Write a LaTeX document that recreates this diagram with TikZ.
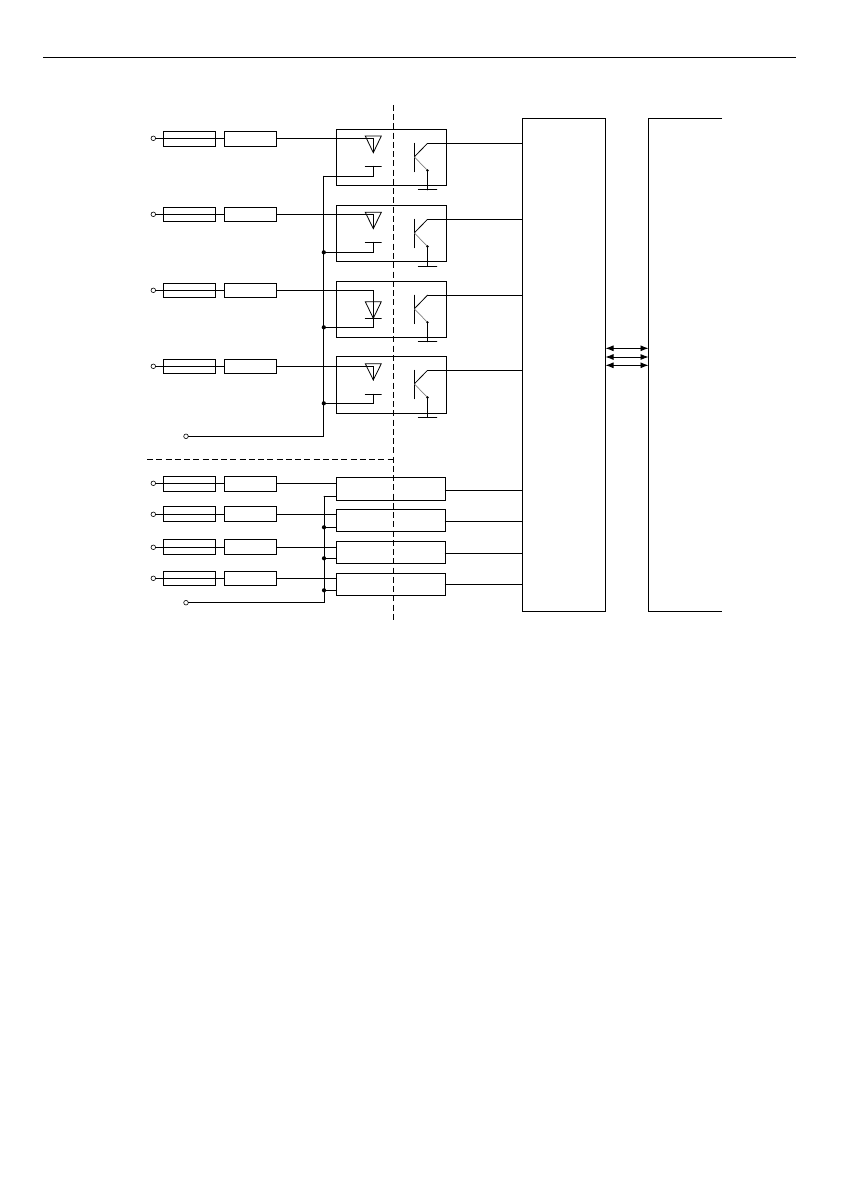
\documentclass[tikz,border=0pt]{standalone}
\usetikzlibrary{arrows.meta}
\tikzset{
  wire/.style={line width=0.8pt,line cap=round,line join=miter},
  block/.style={draw,line width=0.8pt,inner sep=0pt,outer sep=0pt,rectangle},
  fusebox/.style={block,minimum width=52.4pt},
  resbox/.style={block,minimum width=52.4pt},
  port/.style={draw,circle,line width=0.6pt,inner sep=0pt,outer sep=0pt,minimum size=4.6pt,fill=white},
  jdot/.style={fill,circle,inner sep=0pt,outer sep=0pt,minimum size=4.2pt},
  isol/.style={line width=0.8pt,dash pattern=on 6pt off 3.25pt},
  bus/.style={wire,{Latex[length=8pt,width=6pt]}-{Latex[length=8pt,width=6pt]}}
}
\begin{document}
\begin{tikzpicture}[x=1pt,y=-1pt]
\useasboundingbox (0,0) rectangle (840,1190);
% header rule
\coordinate (ruleL) at (43,57.5);
\coordinate (ruleR) at (796,57.5);
\draw[line width=0.7pt] (ruleL) -- (ruleR);
% isolation lines
\coordinate (isoT) at (393.5,105);
\coordinate (isoB) at (393.5,619.5);
\coordinate (isoL) at (147,459.5);
\coordinate (isoC) at (393.5,459.5);
\draw[isol] (isoT) -- (isoB);
\draw[isol] (isoL) -- (isoC);
% main blocks
\node[block,anchor=north west,minimum width=83pt,minimum height=493pt] (mcu) at (522.5,118.5) {};
\node[anchor=north west,inner sep=0pt,outer sep=0pt,minimum width=73.5pt,minimum height=492.5pt] (ext) at (648.5,118.5) {};
\draw[wire,line cap=butt] (ext.north east) -- (ext.north west) -- (ext.south west) -- (ext.south east);
% bus arrows
\foreach \i/\y in {1/348.3,2/357,3/365.3}{
  \coordinate (bus\i) at (600,\y);
  \draw[bus] (bus\i -| mcu.east) -- (bus\i -| ext.west);
}
% common returns
\coordinate (topbusA) at (323.8,176.3);
\node[port] (comA) at (186,436.3) {};
\coordinate (cornerA) at (323.8,436.3);
\draw[wire] (comA) -- (cornerA) -- (topbusA);
\coordinate (topbusB) at (324,496.3);
\node[port] (comB) at (186,602.7) {};
\coordinate (cornerB) at (324,602.7);
\draw[wire] (comB) -- (cornerB) -- (topbusB);
% opto channels: id/row/fuse centre/fuse height/box centre/height/triangle top/apex/bar/stub/collector
\foreach \n/\r/\fc/\fh/\bc/\bh/\tt/\ta/\tb/\ts/\c in {
  1/138.3/138.8/15/157.3/56/136/152.7/166.3/176.3/143.3,
  2/214.3/214.3/14/233.3/56/212.3/228.7/242.3/252.3/219.3,
  3/290.3/290.3/14/309.3/56/301.7/318.3/318.3/327.3/295.2,
  4/366.3/366.3/14/384.8/57/363.7/380/394.3/403.3/370.3}{
  \node[port] (in\n) at (153.3,\r) {};
  \node[fusebox,minimum height=\fh pt] (fuse\n) at (189.5,\fc) {};
  \node[resbox,minimum height=\fh pt] (res\n) at (250.5,\fc) {};
  \node[block,minimum width=110pt,minimum height=\bh pt] (opto\n) at (391.3,\bc) {};
  % diode
  \coordinate (anode\n) at (373.3,\ta);
  \coordinate (ent\n) at (373.3,\r);
  \coordinate (tl\n) at (365.3,\tt);
  \coordinate (tr\n) at (381.3,\tt);
  \coordinate (barl\n) at (365.3,\tb);
  \coordinate (barr\n) at (381.3,\tb);
  \coordinate (barc\n) at (373.3,\tb);
  \coordinate (stub\n) at (373.3,\ts);
  \draw[wire] (tl\n) -- (tr\n) -- (anode\n) -- cycle;
  \draw[wire] (barl\n) -- (barr\n);
  \draw[wire] (in\n) -- (res\n.west |- in\n);
  \draw[wire] (res\n.east |- in\n) -- (ent\n) -- (anode\n);
  % transistor
  \coordinate (coll\n) at (427.5,\c);
  \coordinate (bt\n) at (414.3,\c);
  \coordinate (bb\n) at ([yshift=-28.4pt]bt\n);
  \coordinate (bm\n) at ([yshift=-13.6pt]bt\n);
  \coordinate (em\n) at ([yshift=-27.2pt]coll\n);
  \coordinate (gnd\n) at ([yshift=-46.6pt]coll\n);
  \coordinate (gl\n) at ([xshift=-9.3pt]gnd\n);
  \coordinate (gr\n) at ([xshift=9.3pt]gnd\n);
  \draw[wire] (bt\n) -- (bb\n);
  \draw[wire] (bm\n) -- (coll\n);
  \draw[line width=0.7pt,gray] (bm\n) -- (em\n);
  \fill (em\n) circle (1.3pt);
  \draw[wire] (em\n) -- (gnd\n);
  \draw[wire] (gl\n) -- (gr\n);
  \draw[wire] (coll\n) -- (coll\n -| mcu.west);
}
% cathode stubs
\draw[wire] (barc1) -- (stub1) -- (topbusA);
\foreach \n in {2,3,4}{
  \draw[wire] (barc\n) -- (stub\n) -- (stub\n -| topbusA) node[jdot] {};
}
% direct channels: id/row/fuse centre/fuse height/block centre/height/stub/out
\foreach \n/\r/\fc/\fh/\bc/\bh/\ts/\o in {
  5/483.3/483.8/15/488.8/23/496.3/490.3,
  6/514.3/513.8/15/520.3/22/527.3/521.3,
  7/547.3/546.8/15/552.3/22/558.3/553.3,
  8/578.3/578.3/14/584.3/22/590.3/584.3}{
  \node[port] (in\n) at (153.3,\r) {};
  \node[fusebox,minimum height=\fh pt] (fuse\n) at (189.5,\fc) {};
  \node[resbox,minimum height=\fh pt] (res\n) at (250.5,\fc) {};
  \node[block,minimum width=109pt,minimum height=\bh pt] (blk\n) at (390.8,\bc) {};
  \coordinate (entry\n) at (336.3,\r);
  \coordinate (ret\n) at (336.3,\ts);
  \coordinate (out\n) at (445.3,\o);
  \draw[wire] (in\n) -- (res\n.west |- in\n);
  \draw[wire] (res\n.east |- in\n) -- (entry\n);
  \draw[wire] (out\n) -- (out\n -| mcu.west);
}
\draw[wire] (ret5) -- (ret5 -| topbusB);
\foreach \n in {6,7,8}{
  \draw[wire] (ret\n) -- (ret\n -| topbusB) node[jdot] {};
}
\end{tikzpicture}
\end{document}
